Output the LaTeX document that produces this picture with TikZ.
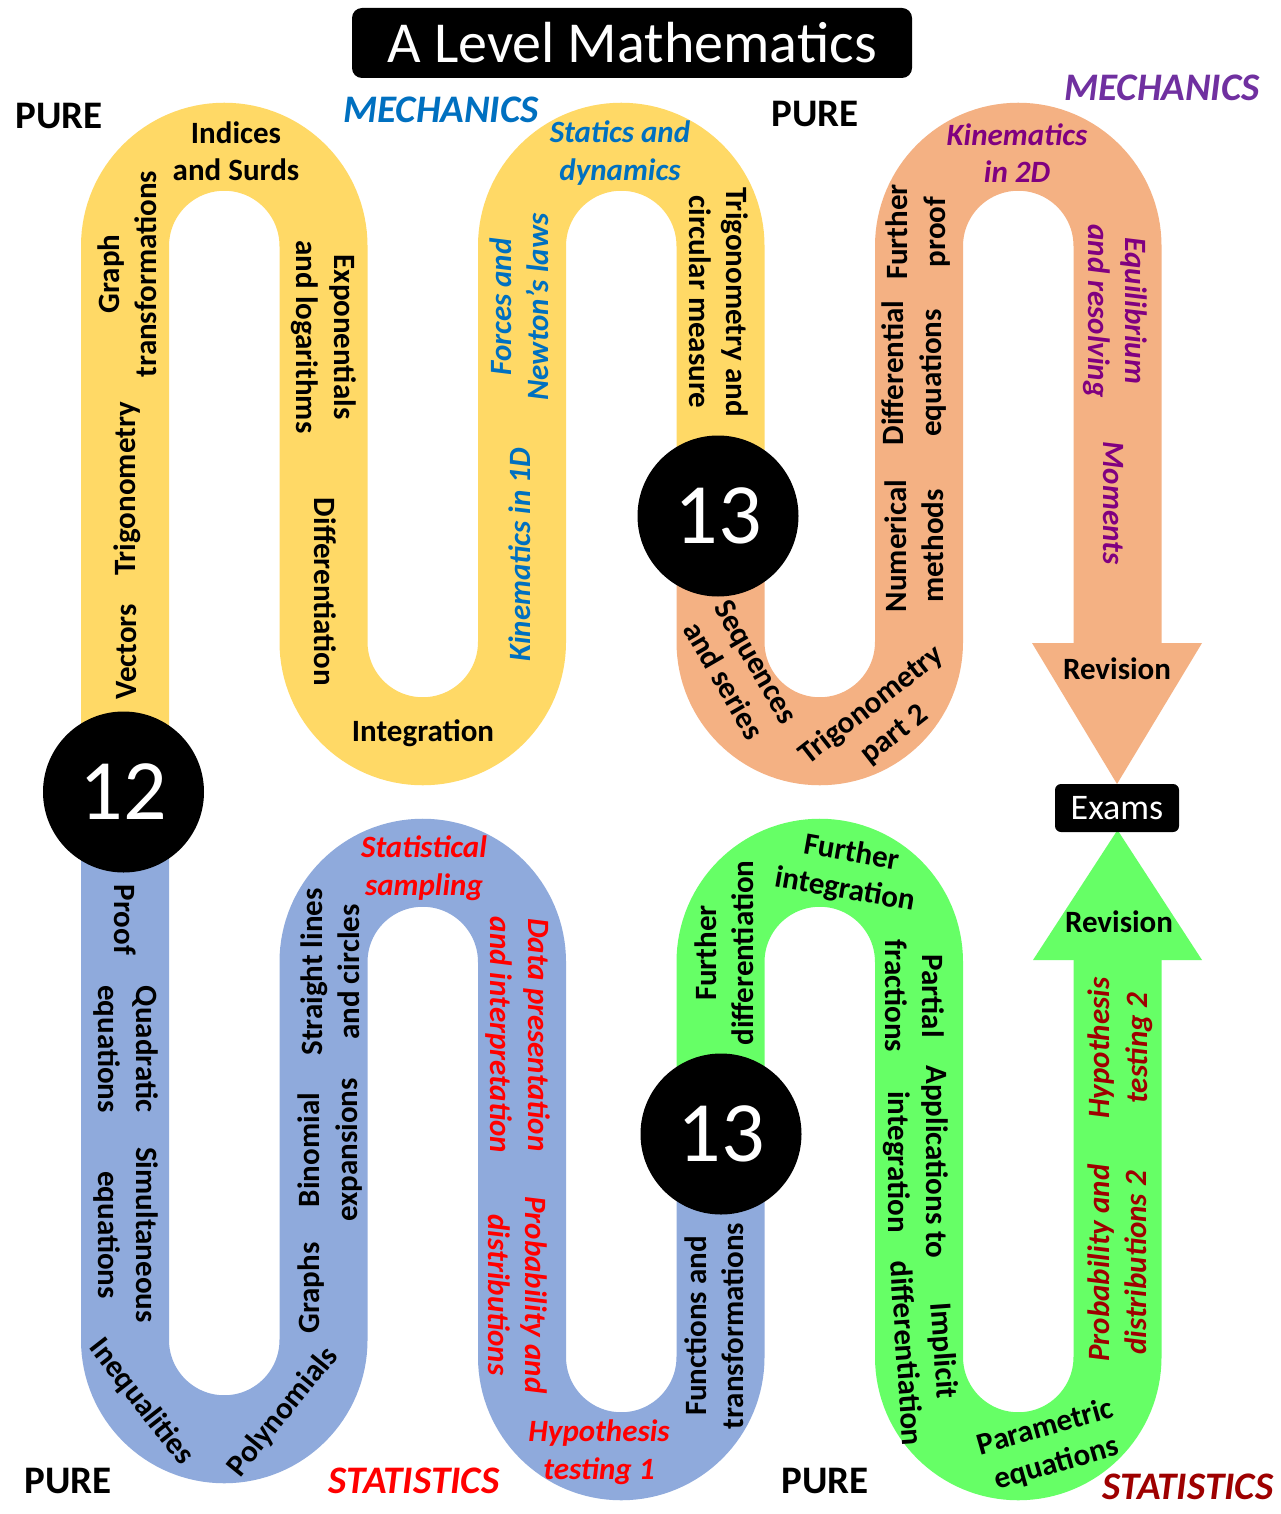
\documentclass[tikz,border=0pt]{standalone}
\usepackage{fontspec}
\setmainfont{Carlito}
\definecolor{yellowband}{HTML}{FFD966}
\definecolor{orangeband}{HTML}{F4B183}
\definecolor{blueband}{HTML}{8FAADC}
\definecolor{greenband}{HTML}{66FF66}
\definecolor{mechblue}{HTML}{0070C0}
\definecolor{mechpurple}{HTML}{7030A0}
\definecolor{topicpurple}{HTML}{800080}
\definecolor{statred}{HTML}{FF0000}
\definecolor{statdark}{HTML}{9E0000}
\begin{document}
\begin{tikzpicture}[x=1pt,y=-1pt,
  band/.style={line width=88pt},
  topic/.style={font=\fontsize{31}{37.5}\selectfont\bfseries, align=center, inner sep=0pt, text=black},
  ttopic/.style={topic, font=\fontsize{31}{37.5}\selectfont\bfseries\itshape},
  head/.style={font=\fontsize{39}{45}\selectfont\bfseries, inner sep=0pt},
  ihead/.style={font=\fontsize{39}{45}\selectfont\bfseries\itshape, inner sep=0pt},
  yearc/.style={circle, fill=black, minimum size=161pt, inner sep=0pt, text=white, font=\fontsize{86}{90}\selectfont},
  blackbox/.style={fill=black, text=white, inner sep=0pt}
]
\fill[white] (0,0) rectangle (1280,1514);
\useasboundingbox (0,0) rectangle (1280,1514);

% ---- bands ----
\draw[band, yellowband] (125,792) -- (125,246)
  arc[start angle=180, end angle=360, radius=99.25] -- (323.5,642)
  arc[start angle=180, end angle=0, radius=99.25] -- (522,246)
  arc[start angle=180, end angle=360, radius=99.25] -- (720.5,516);
\draw[band, orangeband] (720.5,516) -- (720.5,642)
  arc[start angle=180, end angle=0, radius=99.25] -- (919,246)
  arc[start angle=180, end angle=360, radius=99.25] -- (1117.5,643);
\fill[orangeband] (1032,643) -- (1202,643) -- (1117,784) -- cycle;

\draw[band, blueband] (125,792) -- (125,1340)
  arc[start angle=180, end angle=0, radius=99.25] -- (323.5,962)
  arc[start angle=180, end angle=360, radius=99.25] -- (522,1357)
  arc[start angle=180, end angle=0, radius=99.25] -- (720.5,1134);
\draw[band, greenband] (720.5,1134) -- (720.5,962)
  arc[start angle=180, end angle=360, radius=99.25] -- (919,1357)
  arc[start angle=180, end angle=0, radius=99.25] -- (1117.5,960);
\fill[greenband] (1033,960) -- (1202,960) -- (1117.5,830) -- cycle;

% ---- title and headings ----
\node[blackbox, rounded corners=10pt, minimum width=560pt, minimum height=70pt,
  font=\fontsize{58}{60}\selectfont] (title) at (632,43) {A Level Mathematics};
\node[head] (pureA) at (59,116) {PURE};
\node[ihead, text=mechblue] (mechA) at (441,110) {MECHANICS};
\node[head] (pureB) at (815,114) {PURE};
\node[ihead, text=mechpurple] (mechB) at (1162,88) {MECHANICS};
\node[head] (pureC) at (68,1481) {PURE};
\node[ihead, text=statred] (statA) at (414,1481) {STATISTICS};
\node[head] (pureD) at (825,1481) {PURE};
\node[ihead, text=statdark] (statB) at (1188,1487) {STATISTICS};

% ---- top half topics ----
\node[topic, rotate=90] (vectors) at (127,652) {Vectors};
\node[topic, rotate=90] (trig) at (127,489) {Trigonometry};
\node[topic, rotate=90] (graph) at (127,274) {Graph\\transformations};
\node[topic] (indices) at (236,151) {Indices\\and Surds};
\node[topic, rotate=-90] (expo) at (324,337) {Exponentials\\and logarithms};
\node[topic, rotate=-90] (diff) at (325,592) {Differentiation};
\node[topic] (integ) at (423,733) {Integration};
\node[ttopic, rotate=90, text=mechblue] (kin1) at (520,555) {Kinematics in 1D};
\node[ttopic, rotate=90, text=mechblue] (forces) at (519,307) {Forces and\\Newton’s laws};
\node[ttopic, text=mechblue] (statics) at (620,153) {Statics and\\dynamics};
\node[topic, rotate=-90] (trigcirc) at (719,302) {Trigonometry and\\circular measure};
\node[topic, rotate=-60] (seq) at (740,671) {Sequences\\and series};
\node[topic, rotate=38] (trig2) at (883,720) {Trigonometry\\part 2};
\node[topic, rotate=90] (numer) at (914,546) {Numerical\\methods};
\node[topic, rotate=90] (diffeq) at (914,373) {Differential\\equations};
\node[topic, rotate=90] (fproof) at (918,232) {Further\\proof};
\node[ttopic, text=topicpurple] (kin2) at (1017,153) {Kinematics\\in 2D};
\node[ttopic, rotate=-90, text=topicpurple] (equil) at (1115,311) {Equilibrium\\and resolving};
\node[ttopic, rotate=-90, text=topicpurple] (moments) at (1113,503) {Moments};
\node[topic] (rev1) at (1117,669) {Revision};
\node[blackbox, rounded corners=6pt, minimum width=124pt, minimum height=48pt,
  font=\fontsize{36}{40}\selectfont] (exams) at (1117,808) {Exams};

% ---- bottom half topics ----
\node[topic, rotate=-90] (proof) at (125,920) {Proof};
\node[topic, rotate=-90] (quad) at (126,1049) {Quadratic\\equations};
\node[topic, rotate=-90] (simul) at (126,1235) {Simultaneous\\equations};
\node[topic, rotate=-52] (ineq) at (141,1402) {Inequalities};
\node[topic, rotate=51] (poly) at (283,1412) {Polynomials};
\node[topic, rotate=90] (graphs) at (311,1288) {Graphs};
\node[topic, rotate=90] (binom) at (330,1150) {Binomial\\expansions};
\node[topic, rotate=90] (straight) at (330,972) {Straight lines\\and circles};
\node[ttopic, text=statred] (statsamp) at (424,868) {Statistical\\sampling};
\node[ttopic, rotate=-90, text=statred] (datapres) at (518,1035) {Data presentation\\and interpretation};
\node[ttopic, rotate=-90, text=statred] (probdist) at (518,1295) {Probability and\\distributions};
\node[ttopic, text=statred] (hyp1) at (599,1452) {Hypothesis\\testing 1};
\node[topic, rotate=90] (funcs) at (714,1326) {Functions and\\transformations};
\node[topic, rotate=90] (fdiff) at (724,953) {Further\\differentiation};
\node[topic, rotate=-10] (fint) at (848,872) {Further\\integration};
\node[topic, rotate=-90] (partial) at (915,996) {Partial\\fractions};
\node[topic, rotate=-90] (appl) at (916,1162) {Applications to\\integration};
\node[topic, rotate=-86] (implicit) at (926,1352) {Implicit\\differentiation};
\node[topic, rotate=16] (param) at (1051,1446) {Parametric\\equations};
\node[ttopic, rotate=90, text=statdark] (probdist2) at (1117,1263) {Probability and\\distributions 2};
\node[ttopic, rotate=90, text=statdark] (hyp2) at (1120,1048) {Hypothesis\\testing 2};
\node[topic] (rev2) at (1119,922) {Revision};

% ---- year circles ----
\node[yearc] (c12) at (123.5,792) {12};
\node[yearc] (c13a) at (718,516) {13};
\node[yearc] (c13b) at (721,1134) {13};
\end{tikzpicture}
\end{document}
